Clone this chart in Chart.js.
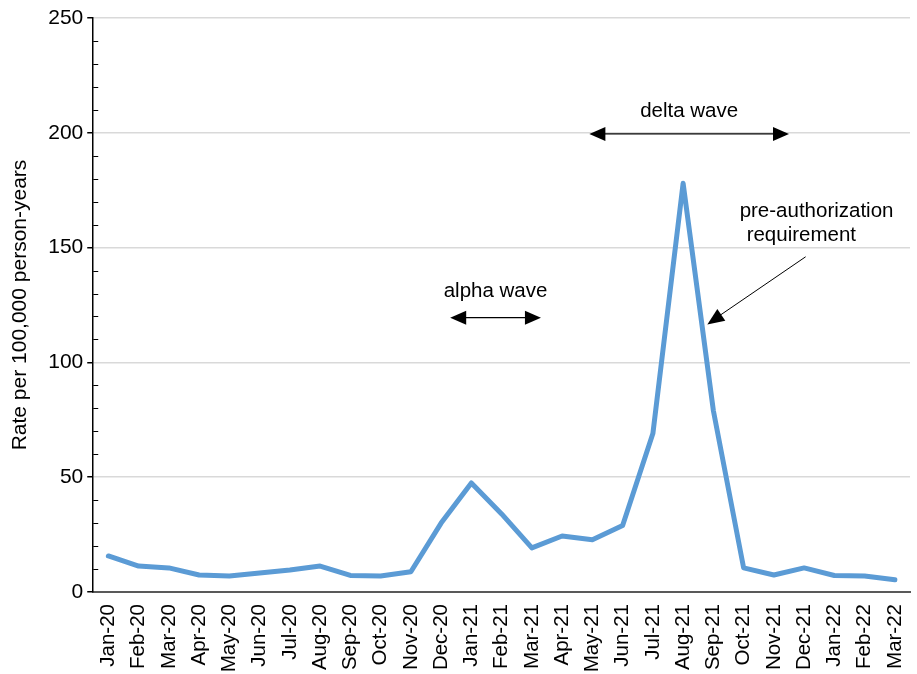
<!DOCTYPE html>
<html lang="en">
<head>
    <meta charset="UTF-8">
    <title>Rate per 100,000 person-years</title>
    <script src="https://cdn.jsdelivr.net/npm/chart.js"></script>
    <style>
        html, body {
            margin: 0;
            padding: 0;
            background: #fff;
        }
        #wrap {
            width: 917px;
            height: 674px;
        }
    </style>
</head>
<body>
    <div id="wrap"><canvas id="rateChart"></canvas></div>

    <script>
        // Meses
        const months = ['Jan-20', 'Feb-20', 'Mar-20', 'Apr-20', 'May-20', 'Jun-20', 'Jul-20', 'Aug-20',
            'Sep-20', 'Oct-20', 'Nov-20', 'Dec-20', 'Jan-21', 'Feb-21', 'Mar-21', 'Apr-21', 'May-21',
            'Jun-21', 'Jul-21', 'Aug-21', 'Sep-21', 'Oct-21', 'Nov-21', 'Dec-21', 'Jan-22', 'Feb-22', 'Mar-22'];

        // Taxa por 100.000 pessoas-ano
        const rates = [15.7, 11.3, 10.5, 7.4, 7.0, 8.3, 9.6, 11.3, 7.2, 7.0, 8.8, 30, 47.5, 34, 19.2,
            24.4, 22.8, 29, 69, 178, 79, 10.5, 7.4, 10.5, 7.2, 7.0, 5.3];

        const yTicks = [0, 50, 100, 150, 200, 250];

        // Anotações (em coordenadas dos eixos: índice da categoria, valor)
        const waveArrows = [
            { label: 'alpha wave', from: 11.3, to: 14.3, y: 119.5, textY: 131 },
            { label: 'delta wave', from: 15.9, to: 22.5, y: 199.5, textY: 209.5 }
        ];
        const preAuthText = ['pre-authorization', 'requirement'];
        const preAuthArrow = { x0: 23.05, y0: 146, x1: 19.8, y1: 116.5 };

        const FONT = '"Liberation Sans", Arial, sans-serif';

        function arrowHead(ctx, x0, y0, x1, y1, len, w) {
            const a = Math.atan2(y1 - y0, x1 - x0);
            ctx.beginPath();
            ctx.moveTo(x1, y1);
            ctx.lineTo(x1 - len * Math.cos(a) + w * Math.sin(a), y1 - len * Math.sin(a) - w * Math.cos(a));
            ctx.lineTo(x1 - len * Math.cos(a) - w * Math.sin(a), y1 - len * Math.sin(a) + w * Math.cos(a));
            ctx.closePath();
            ctx.fill();
        }

        const annotations = {
            id: 'annotations',
            afterDraw(chart) {
                const ctx = chart.ctx;
                const xs = chart.scales.x;
                const ys = chart.scales.y;
                const px = v => xs.getPixelForValue(0) + v * (xs.getPixelForValue(1) - xs.getPixelForValue(0));
                ctx.save();
                ctx.fillStyle = '#000';
                ctx.strokeStyle = '#000';

                // marcas menores no eixo y
                ctx.lineWidth = 1;
                for (let v = 10; v < 250; v += 10) {
                    if (v % 50 === 0) continue;
                    const y = Math.round(ys.getPixelForValue(v)) + 0.5;
                    ctx.beginPath();
                    ctx.moveTo(xs.left, y);
                    ctx.lineTo(xs.left + 5, y);
                    ctx.stroke();
                }

                ctx.font = '20.5px ' + FONT;
                ctx.textAlign = 'center';
                ctx.textBaseline = 'middle';
                ctx.lineWidth = 1.3;
                waveArrows.forEach(w => {
                    const x0 = px(w.from), x1 = px(w.to), y = ys.getPixelForValue(w.y);
                    ctx.beginPath();
                    ctx.moveTo(x0 + 10, y);
                    ctx.lineTo(x1 - 10, y);
                    ctx.stroke();
                    arrowHead(ctx, x1, y, x0, y, 16, 7);
                    arrowHead(ctx, x0, y, x1, y, 16, 7);
                    ctx.fillText(w.label, (x0 + x1) / 2, ys.getPixelForValue(w.textY));
                });

                // pre-authorization
                const ax0 = px(preAuthArrow.x0), ay0 = ys.getPixelForValue(preAuthArrow.y0);
                const ax1 = px(preAuthArrow.x1), ay1 = ys.getPixelForValue(preAuthArrow.y1);
                ctx.textAlign = 'left';
                ctx.fillText(preAuthText[0], ax0 - 66, ay0 - 45);
                ctx.fillText(preAuthText[1], ax0 - 59, ay0 - 21);
                ctx.lineWidth = 1;
                ctx.beginPath();
                ctx.moveTo(ax0, ay0);
                ctx.lineTo(ax1 + 8, ay1 - 6);
                ctx.stroke();
                arrowHead(ctx, ax0, ay0, ax1, ay1, 17, 7);
                ctx.restore();
            }
        };

        const ctx = document.getElementById('rateChart').getContext('2d');
        new Chart(ctx, {
            type: 'line',
            data: {
                labels: months,
                datasets: [{
                    data: rates,
                    borderColor: '#5B9BD5',
                    borderWidth: 5,
                    pointRadius: 0,
                    fill: false,
                    tension: 0,
                    borderCapStyle: 'round',
                    borderJoinStyle: 'round'
                }]
            },
            options: {
                responsive: true,
                maintainAspectRatio: false,
                animation: false,
                layout: {
                    padding: { left: 8, right: 7, top: 18, bottom: 0 }
                },
                plugins: {
                    legend: { display: false },
                    tooltip: { enabled: false }
                },
                scales: {
                    x: {
                        offset: true,
                        afterFit: s => {
                            s.paddingLeft = 0;
                            s.paddingRight = 0;
                            s.height = 82;
                        },
                        grid: { display: false, drawTicks: false },
                        border: { color: '#595959', width: 2 },
                        ticks: {
                            color: '#000',
                            maxRotation: 90,
                            minRotation: 90,
                            autoSkip: false,
                            padding: 12,
                            font: { family: FONT, size: 20.5 }
                        }
                    },
                    y: {
                        min: 0,
                        max: 250,
                        afterBuildTicks: axis => {
                            axis.ticks = yTicks.map(v => ({ value: v }));
                        },
                        grid: {
                            color: '#d9d9d9',
                            lineWidth: 1.5,
                            tickColor: '#000',
                            tickLength: 6
                        },
                        border: { color: '#000', width: 1.5 },
                        ticks: {
                            color: '#000',
                            padding: 4,
                            font: { family: FONT, size: 21 }
                        },
                        title: {
                            display: true,
                            text: 'Rate per 100,000 person-years',
                            color: '#000',
                            padding: { top: 0, bottom: 11 },
                            font: { family: FONT, size: 21 }
                        }
                    }
                }
            },
            plugins: [annotations]
        });
    </script>
</body>
</html>
